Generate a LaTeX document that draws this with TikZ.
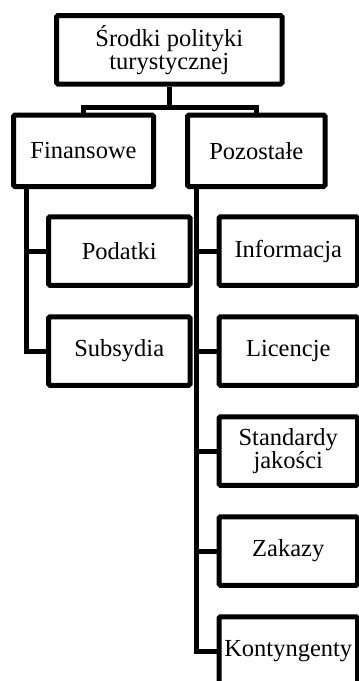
\documentclass[tikz,border=0pt]{standalone}
\usepackage{fontspec}
\setmainfont{Liberation Serif}
\begin{document}
\begin{tikzpicture}[x=1pt,y=-1pt,
  box/.style={draw=black, line width=5pt, rounded corners=1.5pt, align=center,
    inner sep=0pt, font=\fontsize{24.5}{23}\selectfont, text=black},
  small/.style={box, minimum width=141.5pt, minimum height=68.5pt},
  right/.style={box, minimum width=138.5pt, minimum height=68.5pt},
  conn/.style={draw=black, line width=5pt}]
\useasboundingbox (0,0) rectangle (359,681);
\clip (0,0) rectangle (359,681);
\fill[white] (0,0) rectangle (359,681);
\node[box, minimum width=225.5pt, minimum height=68.5pt] (top) at (169.25,49.75) {Środki polityki\\turystycznej};
\node[box, minimum width=140pt, minimum height=71.5pt] (fin) at (83.5,150.75) {Finansowe};
\node[box, minimum width=137.5pt, minimum height=71.5pt] (poz) at (256.25,150.75) {Pozostałe};
\node[small] (pod) at (119.25,251) {Podatki};
\node[small] (sub) at (119.25,351) {Subsydia};
\node[right] (inf) at (288.25,251) {Informacja};
\node[right] (lic) at (288.25,351) {Licencje};
\node[right] (sta) at (288.25,451) {Standardy\\jakości};
\node[right] (zak) at (288.25,551) {Zakazy};
\node[right] (kon) at (288.25,651) {Kontyngenty};
\draw[conn] (top.south) -- ++(0,20.5) coordinate (j);
\draw[conn] (fin.north) |- (j) -| (poz.north);
\draw[conn] ([xshift=15pt]fin.south west) |- (sub.west);
\draw[conn] (pod.west) -- ++(-20.5,0);
\draw[conn] ([xshift=11pt]poz.south west) |- (kon.west);
\draw[conn] (inf.west) -- ++(-21,0);
\draw[conn] (lic.west) -- ++(-21,0);
\draw[conn] (sta.west) -- ++(-21,0);
\draw[conn] (zak.west) -- ++(-21,0);
\end{tikzpicture}
\end{document}
